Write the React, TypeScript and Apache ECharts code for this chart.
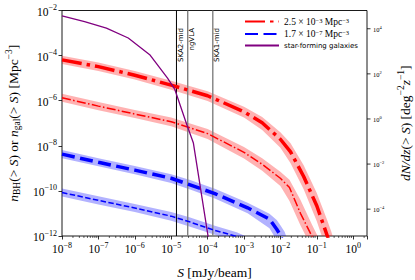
import React, { useEffect, useRef } from "react";
import * as echarts from "echarts";

const SERIF = '"Liberation Serif", "DejaVu Serif", serif';
const SANS = '"DejaVu Sans", sans-serif';

// Axes are drawn in log10 space: every number below is log10 of the quantity.
const X_MIN = -8;
const X_MAX = 0.38;
const YL_MIN = -12;
const YL_MAX = -2;
const YR_MIN = -5.19;
const YR_MAX = 4.81;
const rightTickExps = [4, 2, 0, -2, -4];
const minorMultipliers = [2, 3, 4, 5, 6, 7, 8, 9];

// BH, n = 2.5e-3 Mpc^-3 (thick) and its thin companion
const redThickS = [-8, -7, -6, -5, -4, -3, -2.5, -2, -1.72, -1.36, -1, -0.71, -0.6];
const redThickN = [-4.19, -4.49, -4.87, -5.31, -5.78, -6.49, -6.98, -7.71, -8.27, -9.36, -10.66, -12.0, -12.6];
const redThickUpS = [-8, -7, -6, -5, -4, -3, -2.5, -2, -1.72, -1.36, -1, -0.71, -0.6, -0.5];
const redThickUpN = [-4.01, -4.31, -4.68, -5.12, -5.58, -6.27, -6.72, -7.4, -7.89, -8.86, -10.09, -11.31, -11.81, -12.36];
const redThickLoS = [-8, -7, -6, -5, -4, -3, -2.5, -2, -1.72, -1.36, -1, -0.8];
const redThickLoN = [-4.37, -4.68, -5.06, -5.51, -6.01, -6.75, -7.3, -8.09, -8.77, -9.93, -11.35, -12.3];

const redThinS = [-8, -7, -6, -5, -4, -3, -2.5, -2, -1.75, -1.45, -1.13, -1.0];
const redThinN = [-5.87, -6.24, -6.59, -6.93, -7.46, -8.29, -8.82, -9.44, -9.85, -10.99, -12.02, -12.5];
const redThinUpS = [-8, -7, -6, -5, -4, -3, -2.5, -2, -1.75, -1.45, -1.13, -1.0, -0.85];
const redThinUpN = [-5.69, -6.06, -6.41, -6.75, -7.26, -8.05, -8.55, -9.15, -9.51, -10.39, -11.5, -11.92, -12.46];
const redThinLoS = [-8, -7, -6, -5, -4, -3, -2.5, -2, -1.75, -1.45, -1.3, -1.2];
const redThinLoN = [-6.05, -6.42, -6.77, -7.13, -7.7, -8.56, -9.11, -9.78, -10.45, -11.52, -12.0, -12.34];

// BH, n = 1.7e-7 Mpc^-3 (thick) and its thin companion
const blueThickS = [-8, -7, -6, -5, -4.5, -3.8, -2.9, -2.3, -2.1, -2.0, -1.88];
const blueThickN = [-8.37, -8.73, -9.08, -9.44, -9.72, -10.12, -10.75, -11.25, -11.7, -11.96, -12.5];
const blueThickUpS = [-8, -7, -6, -5, -4.5, -3.8, -2.9, -2.3, -2.1, -2.0, -1.88, -1.75];
const blueThickUpN = [-8.19, -8.55, -8.9, -9.26, -9.51, -9.91, -10.53, -11.01, -11.29, -11.52, -11.82, -12.46];
const blueThickLoS = [-8, -7, -6, -5, -4.5, -3.8, -2.9, -2.3, -2.1, -2.0];
const blueThickLoN = [-8.55, -8.91, -9.26, -9.65, -9.93, -10.34, -10.99, -11.66, -12.19, -12.64];

const blueThinS = [-8, -7, -6, -5, -4.5, -3.8, -3.2, -2.9];
const blueThinN = [-10.07, -10.42, -10.76, -11.12, -11.37, -11.75, -12.02, -12.3];
const blueThinUpS = [-8, -7, -6, -5, -4.5, -3.8, -3.2, -2.9, -2.6];
const blueThinUpN = [-9.89, -10.24, -10.58, -10.94, -11.17, -11.55, -11.83, -12.05, -12.4];
const blueThinLoS = [-8, -7, -6, -5, -4.5, -3.8, -3.5, -3.2];
const blueThinLoN = [-10.25, -10.6, -10.94, -11.32, -11.58, -11.94, -12.08, -12.4];

// star-forming galaxies
const sfS = [-8, -7.38, -6.78, -6.18, -5.59, -5.1, -4.9, -4.57, -4.39, -3.98, -3.9];
const sfN = [-2.24, -2.49, -2.78, -3.22, -3.96, -5.0, -5.5, -7.07, -7.88, -12.08, -12.6];

// instrument sensitivities
const instrumentNames = ["SKA2-mid", "ngVLA", "SKA1-mid"];
const instrumentS = [-4.855, -4.546, -3.857];
const instrumentColors = ["#000000", "#808080", "#808080"];
const instrumentWidths = [1, 1.4, 1.4];

const legendNames = ["bhHigh", "bhLow", "sf"];
const legendTexts = [
  "{m|2.5 × 10}{ms|−3}{m| Mpc}{ms|−3}",
  "{m|1.7 × 10}{ms|−7}{m| Mpc}{ms|−3}",
  "{s|star-forming galaxies}",
];

const zip = (xs: number[], ys: number[]) => xs.map((x, i) => [x, ys[i]]);

const supLabel = (e: number) => `{b|10}{s|${e < 0 ? "−" + Math.abs(e) : e}}`;
const isInt = (v: number) => Math.abs(v - Math.round(v)) < 1e-6;

const tickRich = {
  b: { fontFamily: SERIF, fontSize: 11.5, lineHeight: 14, verticalAlign: "bottom", color: "#000" },
  s: { fontFamily: SERIF, fontSize: 8, lineHeight: 8, verticalAlign: "top", color: "#000" },
};

function band(upS: number[], upN: number[], loS: number[], loN: number[], fill: string) {
  const up = zip(upS, upN);
  const lo = zip(loS, loN).reverse();
  return {
    type: "custom",
    coordinateSystem: "cartesian2d",
    xAxisIndex: 0,
    yAxisIndex: 0,
    clip: true,
    silent: true,
    z: 1,
    data: [[upS[0], upN[0]]],
    renderItem: (_p: any, api: any) => {
      const pts = [...up.map((p) => api.coord(p)), ...lo.map((p) => api.coord(p))];
      return { type: "polygon", shape: { points: pts }, style: { fill } };
    },
  };
}

function line(name: string, xs: number[], ys: number[], color: string, width: number, dash: number[], z = 3) {
  return {
    type: "line",
    name,
    data: zip(xs, ys),
    xAxisIndex: 0,
    yAxisIndex: 0,
    symbol: "none",
    showSymbol: false,
    clip: true,
    z,
    lineStyle: { color, width, type: dash.length ? dash : "solid", cap: "butt" },
    itemStyle: { color },
  };
}

export default function App() {
  const ref = useRef<HTMLDivElement>(null);
  useEffect(() => {
    if (!ref.current) return;
    const chart = echarts.init(ref.current, null, { renderer: "svg", width: 415, height: 280 });

    const minorTicks: number[][] = [];
    for (let d = X_MIN; d < X_MAX; d++) {
      minorMultipliers.forEach((k) => {
        const v = d + Math.log10(k);
        if (v < X_MAX) minorTicks.push([v, YL_MIN]);
      });
    }

    const option: any = {
      animation: false,
      backgroundColor: "#fff",
      grid: {
        left: 62,
        right: 48,
        top: 10.5,
        bottom: 44,
        show: true,
        borderColor: "#000",
        borderWidth: 0.9,
        backgroundColor: "transparent",
        containLabel: false,
        outerBoundsMode: "none",
      },
      legend: {
        data: legendNames,
        orient: "vertical",
        left: 244,
        top: 16.5,
        itemWidth: 34,
        itemHeight: 10,
        itemGap: 2.5,
        padding: 0,
        selectedMode: false,
        itemStyle: { color: "transparent", borderColor: "transparent", borderWidth: 0, opacity: 0 },
        formatter: (n: string) => legendTexts[legendNames.indexOf(n)],
        textStyle: {
          color: "#000",
          rich: {
            m: { fontFamily: SERIF, fontSize: 9.5, lineHeight: 10, verticalAlign: "bottom", color: "#000" },
            ms: { fontFamily: SERIF, fontSize: 6.5, lineHeight: 6, verticalAlign: "top", color: "#000" },
            s: { fontFamily: SANS, fontSize: 7, lineHeight: 10, color: "#000" },
          },
        },
      },
      xAxis: [
        {
          type: "value",
          min: X_MIN,
          max: X_MAX,
          interval: 1,
          axisLine: { show: false, onZero: false },
          axisTick: { show: true, length: 3.5, lineStyle: { color: "#000", width: 0.8 } },
          axisLabel: {
            margin: 5,
            formatter: (v: number) => (isInt(v) ? supLabel(Math.round(v)) : ""),
            rich: tickRich,
          },
          splitLine: { show: false },
          name: "{i|S}{r| [mJy/beam]}",
          nameLocation: "middle",
          nameGap: 29,
          nameTextStyle: {
            rich: {
              i: { fontFamily: SERIF, fontStyle: "italic", fontSize: 13.5, color: "#000" },
              r: { fontFamily: SERIF, fontSize: 13.5, color: "#000" },
            },
          },
        },
      ],
      yAxis: [
        {
          type: "value",
          position: "left",
          min: YL_MIN,
          max: YL_MAX,
          interval: 2,
          axisLine: { show: false, onZero: false },
          axisTick: { show: true, length: 3.5, lineStyle: { color: "#000", width: 0.8 } },
          axisLabel: {
            margin: 5,
            formatter: (v: number) => (isInt(v) ? supLabel(Math.round(v)) : ""),
            rich: tickRich,
          },
          splitLine: { show: false },
          name:
            "{i|n}{sub|BH}{r|(> }{i|S}{r|) or }{i|n}{sub|gal}{r|(> }{i|S}{r|) [Mpc}{sup|−3}{r|]}",
          nameLocation: "middle",
          nameRotate: 90,
          nameGap: 37,
          nameTextStyle: {
            rich: {
              i: { fontFamily: SERIF, fontStyle: "italic", fontSize: 13.5, lineHeight: 18, color: "#000" },
              r: { fontFamily: SERIF, fontSize: 13.5, lineHeight: 18, color: "#000" },
              sub: { fontFamily: SERIF, fontSize: 9.5, lineHeight: 8, verticalAlign: "bottom", color: "#000" },
              sup: { fontFamily: SERIF, fontSize: 9.5, lineHeight: 8, verticalAlign: "top", color: "#000" },
            },
          },
        },
        {
          type: "value",
          position: "right",
          min: YR_MIN,
          max: YR_MAX,
          axisLine: { show: false, onZero: false },
          axisTick: { show: false },
          axisLabel: { show: false },
          splitLine: { show: false },
          name: "{i|dN/dz}{r|(> }{i|S}{r|) [deg}{sup|−2}{i|z}{sup|−1}{r|]}",
          nameLocation: "middle",
          nameRotate: 90,
          nameGap: 29,
          nameTextStyle: {
            rich: {
              i: { fontFamily: SERIF, fontStyle: "italic", fontSize: 13.5, lineHeight: 18, color: "#000" },
              r: { fontFamily: SERIF, fontSize: 13.5, lineHeight: 18, color: "#000" },
              sup: { fontFamily: SERIF, fontSize: 9.5, lineHeight: 8, verticalAlign: "top", color: "#000" },
            },
          },
        },
      ],
      series: [
        band(redThickUpS, redThickUpN, redThickLoS, redThickLoN, "rgba(255,0,0,0.3)"),
        band(redThinUpS, redThinUpN, redThinLoS, redThinLoN, "rgba(255,0,0,0.3)"),
        band(blueThickUpS, blueThickUpN, blueThickLoS, blueThickLoN, "rgba(0,0,255,0.3)"),
        band(blueThinUpS, blueThinUpN, blueThinLoS, blueThinLoN, "rgba(0,0,255,0.3)"),
        {
          type: "custom",
          name: "instruments",
          coordinateSystem: "cartesian2d",
          xAxisIndex: 0,
          yAxisIndex: 0,
          silent: true,
          z: 2,
          data: instrumentS.map((s, i) => [s, i]),
          renderItem: (_p: any, api: any) => {
            const s = api.value(0);
            const i = api.value(1);
            const top = api.coord([s, YL_MAX]);
            const bot = api.coord([s, YL_MIN]);
            return {
              type: "group",
              children: [
                {
                  type: "line",
                  shape: { x1: top[0], y1: top[1], x2: bot[0], y2: bot[1] },
                  style: { stroke: instrumentColors[i], lineWidth: instrumentWidths[i] },
                },
                {
                  type: "text",
                  x: top[0] + 1,
                  y: top[1] + 17.5,
                  rotation: Math.PI / 2,
                  style: {
                    text: instrumentNames[i],
                    fontFamily: SANS,
                    fontSize: 7,
                    fill: "#000",
                    align: "right",
                    verticalAlign: "top",
                  },
                },
              ],
            };
          },
        },
        line("bhHigh", redThickS, redThickN, "#ff0000", 3.5, [20, 5, 3.5, 5]),
        line("bhHighThin", redThinS, redThinN, "#ff0000", 1.5, [9, 2.4, 1.5, 2.4]),
        line("bhLow", blueThickS, blueThickN, "#0000ff", 3.5, [13, 5.5]),
        line("bhLowThin", blueThinS, blueThinN, "#0000ff", 1.5, [5.5, 2.4]),
        line("sf", sfS, sfN, "#800080", 1.3, [], 4),
        {
          type: "custom",
          name: "minorTicks",
          coordinateSystem: "cartesian2d",
          xAxisIndex: 0,
          yAxisIndex: 0,
          silent: true,
          clip: false,
          data: minorTicks,
          renderItem: (_p: any, api: any) => {
            const p = api.coord([api.value(0), api.value(1)]);
            return {
              type: "line",
              shape: { x1: p[0], y1: p[1], x2: p[0], y2: p[1] + 2 },
              style: { stroke: "#000", lineWidth: 0.6 },
            };
          },
        },
        {
          type: "custom",
          name: "rightTicks",
          coordinateSystem: "cartesian2d",
          xAxisIndex: 0,
          yAxisIndex: 1,
          silent: true,
          clip: false,
          data: rightTickExps.map((e) => [X_MAX, e]),
          renderItem: (_p: any, api: any) => {
            const e = api.value(1);
            const p = api.coord([api.value(0), e]);
            return {
              type: "group",
              children: [
                {
                  type: "line",
                  shape: { x1: p[0], y1: p[1], x2: p[0] + 3.5, y2: p[1] },
                  style: { stroke: "#000", lineWidth: 0.8 },
                },
                {
                  type: "text",
                  x: p[0] + 6,
                  y: p[1],
                  style: {
                    text: `{b|10}{s|${e < 0 ? "−" + Math.abs(e) : e}}`,
                    align: "left",
                    verticalAlign: "middle",
                    rich: {
                      b: { fontFamily: SERIF, fontSize: 6.5, lineHeight: 8, verticalAlign: "bottom", fill: "#000", color: "#000" },
                      s: { fontFamily: SERIF, fontSize: 4.5, lineHeight: 4, verticalAlign: "top", fill: "#000", color: "#000" },
                    },
                  },
                },
              ],
            };
          },
        },
      ],
    };
    chart.setOption(option);
    return () => chart.dispose();
  }, []);
  return (
    <div
      ref={ref}
      style={{ position: "fixed", left: 0, top: 0, width: 415, height: 280, background: "#fff" }}
    />
  );
}
